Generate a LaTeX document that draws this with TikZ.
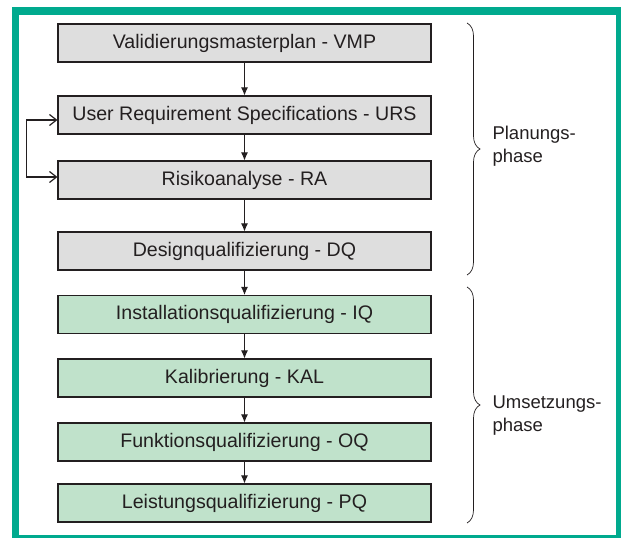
\documentclass[tikz,border=0pt]{standalone}
\usepackage{fontspec}
\setmainfont{Liberation Sans}
\usetikzlibrary{arrows.meta,decorations.pathreplacing}

\definecolor{framegreen}{RGB}{0,170,142}
\definecolor{plangray}{RGB}{222,222,222}
\definecolor{umsgreen}{RGB}{192,226,203}
\definecolor{inkgray}{RGB}{35,31,32}

\begin{document}
\begin{tikzpicture}[x=1pt, y=-1pt,
                        every node/.style={font=\fontsize{18.5}{23}\selectfont, text=inkgray},
                        stepbox/.style={rectangle, draw=inkgray, line width=1.1pt, minimum width=373pt, minimum height=38pt, inner sep=0pt, font=\fontsize{19.6}{23}\selectfont},
                        planbox/.style={stepbox, fill=plangray},
                        umsbox/.style={stepbox, fill=umsgreen},
                        every edge/.style={draw, inkgray, line width=0.9pt, -{Latex[length=8pt,width=7pt]}},
                        phasebrace/.style={draw, inkgray, line width=0.7pt, decorate, decoration={brace, amplitude=13pt}}]
                
                        \useasboundingbox (0,0) rectangle (621,538);
                        % Frame
                        \draw[framegreen, line width=7.5pt] (15.5,11) rectangle (619.5,538.5);
                
                        % Define nodes
                        \node[planbox] (vmp) at (244.5,43) {Validierungsmasterplan - VMP}; % Planung
                        \node[planbox] (urs) at (244.5,115) {User Requirement Specifications - URS};
                        \node[planbox] (ra) at (244.5,180) {Risikoanalyse - RA};
                        \node[planbox] (dq) at (244.5,251) {Designqualifizierung - DQ};
                        \node[umsbox] (iq) at (244.5,314.5) {Installationsqualifizierung - IQ}; % Umsetzung
                        \node[umsbox] (kal) at (244.5,378) {Kalibrierung - KAL};
                        \node[umsbox] (oq) at (244.5,442) {Funktionsqualifizierung - OQ};
                        \node[umsbox] (pq) at (244.5,503) {Leistungsqualifizierung - PQ};
                
                        % Define edges
                        \path (vmp) edge (urs);
                        \path (urs) edge (ra);
                        \path (ra) edge (dq);
                        \path (dq) edge (iq);
                        \path (iq) edge (kal);
                        \path (kal) edge (oq);
                        \path (oq) edge (pq);
                
                        % Loop URS <-> RA
                        \draw[inkgray, line width=1.2pt, {Straight Barb[length=7pt,width=11pt]}-{Straight Barb[length=7pt,width=11pt]}]
                            ([yshift=-5pt]urs.west) -- ++(-31,0) |- ([yshift=3pt]ra.west);
                
                        % Phases
                        \coordinate (plantop) at (467,23);
                        \coordinate (planbot) at (467,275);
                        \coordinate (umstop) at (467,287);
                        \coordinate (umsbot) at (467,523);
                        \draw[phasebrace] (plantop) -- (planbot);
                        \draw[phasebrace] (umstop) -- (umsbot);
                        \node[anchor=west, align=left] (plan) at (489,146) {Planungs-\\phase};
                        \node[anchor=west, align=left] (ums) at (489,416) {Umsetzungs-\\phase};
                        \end{tikzpicture}
\end{document}
